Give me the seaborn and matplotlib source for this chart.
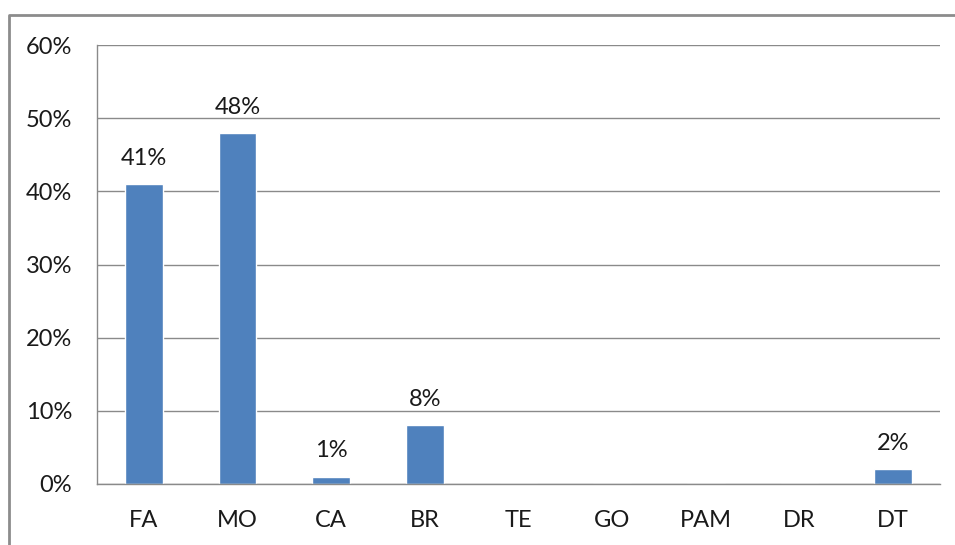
import numpy as np
import pandas as pd
import matplotlib
matplotlib.use('Agg')
import matplotlib.pyplot as plt
from matplotlib.lines import Line2D
from matplotlib.ticker import PercentFormatter
import seaborn as sns

categories = ['FA', 'MO', 'CA', 'BR', 'TE', 'GO', 'PAM', 'DR', 'DT']
values = [41, 48, 1, 8, 0, 0, 0, 0, 2]
y_ticks = [0, 10, 20, 30, 40, 50, 60]

df = pd.DataFrame({'cat': categories, 'val': values})

sns.set_style('white')
plt.rcParams['font.family'] = ['Lato', 'DejaVu Sans']
fs = 17

fig = plt.figure(figsize=(9.55, 5.45), dpi=100)
ax = fig.add_axes([97/955, 1 - 484/545, (940 - 97)/955, (484 - 45)/545])

sns.barplot(data=df, x='cat', y='val', color='#4F81BD', saturation=1, width=0.4, ax=ax)

# data labels, only for non-zero bars
for i, v in enumerate(values):
    if v > 0:
        ax.annotate(f'{v}%', (i, v), xytext=(0, 11), textcoords='offset points',
                    ha='center', va='bottom', fontsize=fs, color='#1a1a1a')

ax.set_xlim(-0.5, len(categories) - 0.5)
ax.set_ylim(0, 60)
ax.set_yticks(y_ticks)
ax.yaxis.set_major_formatter(PercentFormatter(decimals=0))
ax.set_xlabel('')
ax.set_ylabel('')

ax.grid(axis='y', color='#8a8a8a', linewidth=1)
ax.set_axisbelow(True)
for s in ['top', 'right']:
    ax.spines[s].set_visible(False)
for s in ['left', 'bottom']:
    ax.spines[s].set_color('#8a8a8a')
    ax.spines[s].set_linewidth(1)

# ticks between categories like excel
ax.set_xticks(np.arange(-0.5, len(categories)), minor=True)
ax.tick_params(axis='x', which='major', length=0, pad=19, labelsize=fs, labelcolor='#1a1a1a')
ax.tick_params(axis='x', which='minor', length=6, width=1, color='#8a8a8a', direction='out')
ax.tick_params(axis='y', length=6, width=1, color='#8a8a8a', direction='out', pad=12,
               labelsize=fs, labelcolor='#1a1a1a')

# outer chart border (top and left only visible in crop)
fig.add_artist(Line2D([9/955, 9/955, 1], [0, 1 - 15/545, 1 - 15/545],
                      transform=fig.transFigure, color='#8c8c8c', linewidth=2))

fig.savefig('out.png', dpi=100)
